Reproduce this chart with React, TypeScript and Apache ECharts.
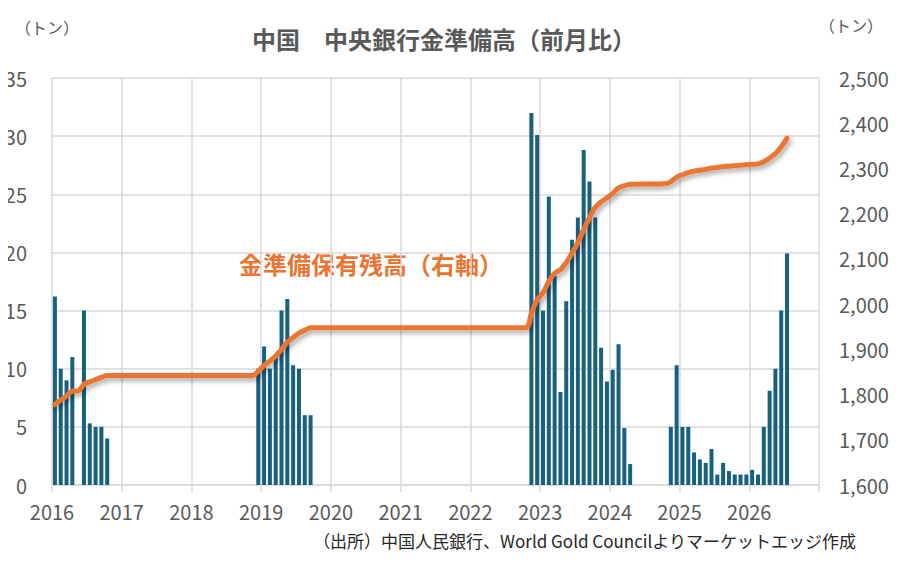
import React, { useEffect, useRef } from "react";
import * as echarts from "echarts";

// Year tick labels (axis boundaries at each January)
const yearLabels = ["2016", "2017", "2018", "2019", "2020", "2021", "2022", "2023", "2024", "2025", "2026"];

// Monthly net purchases (tonnes), left axis
const barMonths = [
  "2016-01", "2016-02", "2016-03", "2016-04", "2016-06", "2016-07", "2016-08", "2016-09", "2016-10",
  "2018-12", "2019-01", "2019-02", "2019-03", "2019-04", "2019-05", "2019-06", "2019-07", "2019-08", "2019-09",
  "2022-11", "2022-12", "2023-01", "2023-02", "2023-03", "2023-04", "2023-05", "2023-06", "2023-07", "2023-08",
  "2023-09", "2023-10", "2023-11", "2023-12", "2024-01", "2024-02", "2024-03", "2024-04",
  "2024-11", "2024-12", "2025-01", "2025-02", "2025-03", "2025-04", "2025-05", "2025-06", "2025-07", "2025-08",
  "2025-09", "2025-10", "2025-11", "2025-12", "2026-01", "2026-02", "2026-03", "2026-04", "2026-05", "2026-06", "2026-07",
];
const barValues = [
  16.2, 10, 9, 11, 15, 5.3, 5, 5, 4,
  10, 11.9, 10, 11, 15, 16, 10.3, 10, 6, 6,
  32, 30.1, 15, 24.8, 18, 8, 15.8, 21.1, 23, 28.8,
  26.1, 23, 11.8, 8.9, 9.9, 12.1, 4.9, 1.8,
  5, 10.3, 5, 5, 2.8, 2.2, 1.9, 3.1, 0.9, 1.9,
  1.2, 0.9, 0.9, 0.9, 1.3, 0.9, 5, 8.1, 10, 15, 19.9,
];

// Gold reserve holdings (tonnes), right axis
const lineMonths = [
  "2016-01", "2016-02", "2016-03", "2016-04", "2016-05", "2016-06", "2016-07", "2016-08", "2016-09", "2016-10",
  "2018-11", "2018-12", "2019-01", "2019-02", "2019-03", "2019-04", "2019-05", "2019-06", "2019-07", "2019-08", "2019-09",
  "2022-10", "2022-11", "2022-12", "2023-01", "2023-02", "2023-03", "2023-04", "2023-05", "2023-06", "2023-07",
  "2023-08", "2023-09", "2023-10", "2023-11", "2023-12", "2024-01", "2024-02", "2024-03", "2024-04",
  "2024-10", "2024-11", "2024-12", "2025-01", "2025-02", "2025-03", "2025-04", "2025-05", "2025-06", "2025-07",
  "2025-08", "2025-09", "2025-10", "2025-11", "2025-12", "2026-01", "2026-02", "2026-03", "2026-04", "2026-05",
  "2026-06", "2026-07",
];
const lineValues = [
  1778, 1788, 1797, 1808, 1808, 1823, 1828, 1833, 1838, 1842,
  1842, 1852, 1864, 1874, 1885, 1900, 1916, 1926, 1936, 1942, 1948,
  1948, 1980, 2010, 2025, 2050, 2068, 2076, 2092, 2113, 2136,
  2165, 2191, 2214, 2226, 2235, 2245, 2257, 2262, 2265,
  2266, 2271, 2281, 2286, 2291, 2294, 2296, 2298, 2301, 2302,
  2304, 2305, 2306, 2307, 2308, 2309, 2310, 2315, 2323, 2333,
  2348, 2367,
];

const TITLE = "中国　中央銀行金準備高（前月比）";
const UNIT = "（トン）";
const ANNOTATION = "金準備保有残高（右軸）";
const SOURCE = "（出所）中国人民銀行、World Gold Councilよりマーケットエッジ作成";

const START_YEAR = 2016;
const toX = (ym: string) => {
  const [y, m] = ym.split("-").map(Number);
  return (y - START_YEAR) * 12 + (m - 1) + 0.5;
};

const FONT = "'Noto Sans CJK JP', 'Noto Sans', sans-serif";
const GRID = "#d9d9d9";
const LABEL = "#595959";
const BAR = "#17607f";
const ORANGE = "#ec7432";

export default function App() {
  const ref = useRef<HTMLDivElement>(null);
  useEffect(() => {
    if (!ref.current) return;
    const chart = echarts.init(ref.current, undefined, { renderer: "svg" });
    const totalMonths = yearLabels.length * 12;
    chart.setOption({
      animation: false,
      backgroundColor: "#ffffff",
      textStyle: { fontFamily: FONT },
      grid: { left: 52, right: 82, top: 78, bottom: 78 },
      xAxis: {
        type: "value",
        min: 0,
        max: totalMonths,
        interval: 12,
        axisLine: { show: true, lineStyle: { color: GRID, width: 1.5 } },
        axisTick: { show: true, length: 7, lineStyle: { color: GRID, width: 1.5 } },
        splitLine: { show: true, lineStyle: { color: GRID, width: 1.5 } },
        axisLabel: {
          margin: 16,
          color: LABEL,
          fontSize: 20,
          fontFamily: FONT,
          formatter: (v: number) => yearLabels[Math.round(v / 12)] ?? "",
        },
      },
      yAxis: [
        {
          type: "value",
          min: 0,
          max: 35,
          interval: 5,
          axisLine: { show: false },
          axisTick: { show: false },
          splitLine: { show: true, lineStyle: { color: GRID, width: 1.5 } },
          axisLabel: { margin: 25, color: LABEL, fontSize: 20, fontFamily: FONT },
        },
        {
          type: "value",
          min: 1600,
          max: 2500,
          interval: 100,
          axisLine: { show: false },
          axisTick: { show: false },
          splitLine: { show: false },
          axisLabel: {
            margin: 20,
            color: LABEL,
            fontSize: 20,
            fontFamily: FONT,
            formatter: (v: number) => v.toLocaleString("en-US"),
          },
        },
      ],
      series: [
        {
          type: "bar",
          xAxisIndex: 0,
          yAxisIndex: 0,
          barWidth: 4,
          itemStyle: { color: BAR },
          data: barMonths.map((m, i) => [toX(m), barValues[i]]),
          z: 2,
        },
        {
          type: "line",
          xAxisIndex: 0,
          yAxisIndex: 1,
          smooth: 0.3,
          symbol: "none",
          lineStyle: {
            color: ORANGE,
            width: 5,
            cap: "round",
            join: "round",
            shadowColor: "rgba(0,0,0,0.35)",
            shadowBlur: 5,
            shadowOffsetX: 2,
            shadowOffsetY: 3,
          },
          data: lineMonths.map((m, i) => [toX(m), lineValues[i]]),
          z: 3,
        },
      ],
      graphic: [
        {
          type: "text",
          x: 444,
          y: 38,
          style: {
            text: TITLE,
            fill: LABEL,
            font: `bold 24px ${FONT}`,
            textAlign: "center",
            textVerticalAlign: "middle",
          },
        },
        {
          type: "text",
          x: 47,
          y: 27,
          style: { text: UNIT, fill: LABEL, font: `16px ${FONT}`, textAlign: "center", textVerticalAlign: "middle" },
        },
        {
          type: "text",
          x: 851,
          y: 25,
          style: { text: UNIT, fill: LABEL, font: `16px ${FONT}`, textAlign: "center", textVerticalAlign: "middle" },
        },
        {
          type: "text",
          x: 239,
          y: 263,
          style: {
            text: ANNOTATION,
            fill: ORANGE,
            font: `bold 24px ${FONT}`,
            textAlign: "left",
            textVerticalAlign: "middle",
          },
        },
        {
          type: "text",
          x: 856,
          y: 540,
          style: { text: SOURCE, fill: "#262626", font: `17px ${FONT}`, textAlign: "right", textVerticalAlign: "middle" },
        },
      ],
    });
    return () => chart.dispose();
  }, []);
  return <div ref={ref} style={{ width: 901, height: 563, margin: -8 }} />;
}
